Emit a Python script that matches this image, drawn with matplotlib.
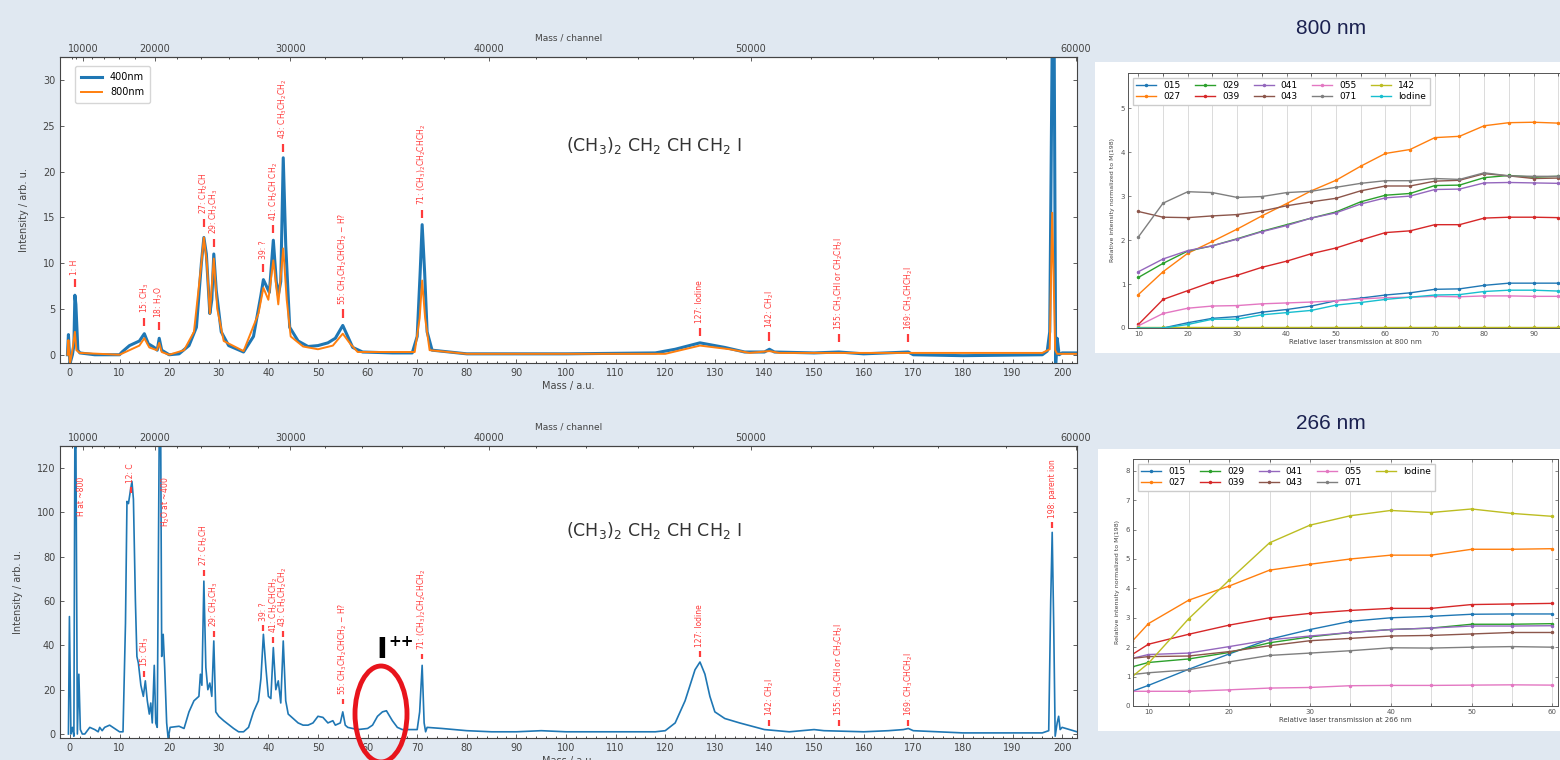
import numpy as np
import matplotlib
matplotlib.use("Agg")
import matplotlib.pyplot as plt
from matplotlib.patches import Rectangle, Ellipse
from matplotlib.ticker import FixedLocator, MultipleLocator

# ---------------- data ----------------
# top spectrum, 400 nm / 800 nm
top400_mass = [-0.5, -0.3, 0.0, 0.5, 0.8, 1.0, 1.2, 1.6, 2.0, 5.0, 10.0, 10.5, 12.0, 14.0, 15.0, 15.8, 17.0,
               17.6, 18.0, 18.5, 20.0, 22.0, 24.0, 25.5, 26.5, 27.0, 27.5, 28.2, 28.6, 29.0, 29.5, 30.5, 32.0,
               35.0, 37.0, 38.5, 39.0, 39.6, 40.2, 41.0, 41.6, 42.0, 42.5, 43.0, 43.5, 44.3, 46.0, 48.0, 50.0,
               52.0, 53.5, 55.0, 56.0, 57.0, 59.0, 65.0, 69.0, 70.0, 70.6, 71.0, 71.5, 72.0, 73.0, 80.0, 100.0,
               118.0, 122.0, 127.0, 132.0, 136.0, 140.0, 141.0, 142.0, 150.0, 155.0, 160.0, 169.0, 170.0, 180.0,
               196.0, 197.0, 197.5, 198.0, 198.4, 198.7, 199.0, 199.4, 200.0, 203.0]
top400_int = [0.0, 2.2, -1.0, 0.0, 1.0, 6.5, 5.5, 0.5, 0.2, 0.0, 0.0, 0.3, 1.0, 1.5, 2.3, 1.2, 0.8,
              0.5, 1.8, 0.5, 0.0, 0.1, 1.0, 3.0, 10.0, 12.8, 11.0, 4.5, 6.0, 11.0, 7.0, 2.5, 1.0,
              0.3, 2.0, 6.5, 8.2, 7.5, 6.8, 12.5, 8.0, 6.5, 8.0, 21.5, 12.0, 3.0, 1.5, 0.9, 1.0,
              1.3, 1.8, 3.2, 2.0, 0.8, 0.3, 0.2, 0.2, 2.0, 9.0, 14.2, 9.0, 2.5, 0.5, 0.1, 0.1,
              0.2, 0.6, 1.3, 0.8, 0.3, 0.3, 0.6, 0.3, 0.2, 0.3, 0.1, 0.3, 0.0, -0.1,
              0.0, 0.4, 2.5, 34.0, 34.0, -1.0, 1.8, 0.0, 0.2, 0.2]

top800_mass = [-0.5, -0.3, 0.0, 0.5, 1.0, 1.3, 2.0, 10.0, 12.0, 14.0, 15.0, 16.0, 17.5, 18.0, 18.5, 20.0,
               23.0, 25.0, 26.5, 27.0, 27.6, 28.2, 29.0, 29.7, 31.0, 35.0, 38.0, 39.0, 40.0, 41.0, 42.0,
               43.0, 43.7, 44.5, 47.0, 50.0, 53.0, 55.0, 56.5, 58.0, 69.5, 70.5, 71.0, 71.6, 72.5, 80.0,
               120.0, 127.0, 133.0, 137.0, 141.0, 143.0, 155.0, 169.0, 196.0, 197.5, 198.0, 198.6, 199.0, 203.0]
top800_int = [0.0, 1.6, -1.0, 0.5, 2.5, 0.5, 0.2, 0.0, 0.5, 1.0, 1.8, 0.8, 0.5, 1.3, 0.3, 0.0,
              0.5, 2.5, 10.0, 12.8, 10.0, 4.5, 10.5, 5.0, 1.5, 0.4, 4.5, 7.3, 6.0, 10.3, 5.5,
              11.6, 6.0, 2.0, 0.9, 0.6, 1.0, 2.3, 1.2, 0.3, 0.3, 4.0, 8.1, 4.0, 0.5, 0.1,
              0.1, 1.0, 0.6, 0.2, 0.4, 0.2, 0.2, 0.2, 0.2, 0.6, 15.5, 0.5, 0.1, 0.1]

# bottom spectrum, 266 nm
bot_mass = [-0.3, -0.1, 0.2, 0.5, 0.8, 1.0, 1.2, 1.5, 1.8, 2.1, 2.5, 3.0, 4.0, 5.0, 5.7, 6.0, 6.5, 7.0, 8.0,
            9.0, 10.0, 10.7, 11.2, 11.5, 11.8, 12.2, 12.5, 12.8, 13.2, 13.5, 13.8, 14.3, 14.8, 15.2, 15.6,
            16.0, 16.3, 16.6, 17.0, 17.3, 17.6, 18.0, 18.3, 18.5, 18.8, 19.1, 19.5, 19.8, 20.2, 22.0, 23.0,
            24.0, 25.0, 26.0, 26.3, 26.6, 27.0, 27.4, 27.8, 28.2, 28.6, 29.0, 29.4, 30.0, 31.0, 33.0, 34.0,
            35.0, 36.0, 37.0, 38.0, 38.5, 39.0, 39.5, 40.0, 40.5, 41.0, 41.5, 42.0, 42.5, 43.0, 43.5, 44.0,
            45.0, 46.0, 47.0, 48.0, 49.0, 50.0, 51.0, 52.0, 53.0, 53.5, 54.5, 55.0, 55.5, 56.0, 58.0, 60.0,
            61.0, 62.0, 63.0, 63.8, 65.0, 66.0, 67.0, 70.0, 70.5, 71.0, 71.4, 71.7, 72.0, 75.0, 80.0, 85.0,
            90.0, 95.0, 100.0, 110.0, 118.0, 120.0, 122.0, 124.0, 126.0, 127.0, 128.0, 129.0, 130.0, 132.0,
            135.0, 140.0, 145.0, 150.0, 152.0, 160.0, 165.0, 168.0, 169.0, 170.0, 175.0, 180.0, 190.0,
            196.0, 197.3, 197.7, 198.0, 198.3, 198.6, 199.0, 199.3, 199.6, 200.0, 203.0]
bot_int = [0, 53, 0, 3, -1, 135, 135, 0, 27, 2, 0, 0, 3, 2, 1, 3, 1.5, 3, 4,
           2.5, 1, 1, 50, 105, 104, 110, 114, 106, 60, 35, 32, 22, 17, 24, 15,
           9, 14, 5, 31, 5, 3, 135, 135, 35, 45, 30, 5, -2, 3, 3.5, 2.5,
           10, 15, 17, 27, 22, 69, 30, 20, 23, 17, 42, 10, 8, 6, 2.5, 1,
           1, 3, 10, 15, 25, 45, 30, 17, 16, 39, 20, 24, 14, 42, 15, 9,
           7, 5, 4, 4, 5, 8, 7.5, 5, 6, 4, 5, 10, 4, 3, 2, 2.5,
           4, 8, 10, 10.5, 6, 3, 2, 2, 10, 31, 5, 1, 3, 2.5, 1.5, 1,
           1, 1.5, 1, 1, 1, 1.5, 5, 15, 29, 32.5, 27, 17, 10, 7,
           5, 2, 1, 2, 1.5, 1, 1.5, 2, 2.5, 1.5, 1, 0.5, 0.5,
           0.5, 1.5, 60, 91, 50, -1, 5, 8, 2, 3, 1]

# peak labels
top_ann_mass = [1, 15, 18, 27, 29, 39, 41, 43, 55, 71, 127, 141, 155, 169]
top_ann_y = [7.8, 3.6, 3.1, 14.4, 12.2, 9.5, 13.7, 22.6, 4.5, 15.4, 2.5, 2.0, 1.8, 1.8]
top_ann_text = ["1: H", "15: CH$_3$", "18: H$_2$O", "27: CH$_2$CH", "29: CH$_2$CH$_3$", "39: ?",
                "41: CH$_2$CH CH$_2$", "43: CH$_3$CH$_2$CH$_2$", "55: CH$_3$CH$_2$CHCH$_2$ − H?",
                "71: (CH$_3$)$_2$CH$_2$CHCH$_2$", "127: Iodine", "142: CH$_2$I",
                "155: CH$_3$CHI or CH$_2$CH$_2$I", "169: CH$_3$CHCH$_2$I"]

bot_ann_mass = [2.3, 12.3, 19.4, 15, 27, 29, 39, 41, 43, 55, 71, 127, 141, 155, 169, 198]
bot_ann_y = [95.5, 110, 90.5, 27, 72.6, 45, 48, 42.5, 45, 14.7, 35, 36, 5, 5, 5, 94.5]
bot_ann_dash = [False, True, False, True, True, True, True, True, True, True, True, True, True, True, True, True]
bot_ann_text = ["H at ~800", "12: C", "H$_2$O at ~400", "15: CH$_3$", "27: CH$_2$CH", "29: CH$_2$CH$_3$",
                "39: ?", "41: CH$_2$CHCH$_2$", "43: CH$_3$CH$_2$CH$_2$", "55: CH$_3$CH$_2$CHCH$_2$ − H?",
                "71: (CH$_3$)$_2$CH$_2$CHCH$_2$", "127: Iodine", "142: CH$_2$I",
                "155: CH$_3$CHI or CH$_2$CH$_2$I", "169: CH$_3$CHCH$_2$I", "198: parent ion"]

channel_ticks = [10000, 20000, 30000, 40000, 50000, 60000]

# laser transmission series, 800 nm
trans800 = [10, 15, 20, 25, 30, 35, 40, 45, 50, 55, 60, 65, 70, 75, 80, 85, 90, 95]
a015 = [0, 0, 0.12, 0.22, 0.26, 0.36, 0.42, 0.5, 0.62, 0.68, 0.75, 0.8, 0.88, 0.89, 0.97, 1.02, 1.02, 1.02]
a027 = [0.76, 1.28, 1.7, 1.97, 2.25, 2.55, 2.83, 3.12, 3.36, 3.68, 3.97, 4.06, 4.33, 4.36, 4.6, 4.67, 4.68, 4.66]
a029 = [1.15, 1.47, 1.75, 1.87, 2.03, 2.2, 2.35, 2.5, 2.64, 2.87, 3.02, 3.06, 3.24, 3.25, 3.42, 3.47, 3.43, 3.45]
a039 = [0.08, 0.65, 0.85, 1.05, 1.2, 1.38, 1.52, 1.69, 1.82, 2.0, 2.17, 2.21, 2.35, 2.35, 2.5, 2.52, 2.52, 2.51]
a041 = [1.28, 1.57, 1.76, 1.87, 2.02, 2.19, 2.33, 2.5, 2.62, 2.82, 2.96, 3.0, 3.15, 3.16, 3.3, 3.31, 3.3, 3.29]
a043 = [2.65, 2.52, 2.51, 2.55, 2.58, 2.66, 2.78, 2.87, 2.95, 3.12, 3.23, 3.23, 3.34, 3.36, 3.51, 3.46, 3.4, 3.41]
a055 = [0.05, 0.33, 0.45, 0.5, 0.51, 0.55, 0.57, 0.59, 0.62, 0.66, 0.69, 0.7, 0.72, 0.71, 0.73, 0.73, 0.72, 0.72]
a071 = [2.07, 2.84, 3.1, 3.08, 2.97, 2.99, 3.08, 3.11, 3.2, 3.29, 3.35, 3.35, 3.4, 3.38, 3.53, 3.46, 3.45, 3.45]
a142 = [0.02, 0.02, 0.02, 0.02, 0.02, 0.02, 0.02, 0.02, 0.02, 0.02, 0.02, 0.02, 0.02, 0.02, 0.02, 0.02, 0.02, 0.02]
a_iod = [0, 0, 0.08, 0.2, 0.2, 0.3, 0.35, 0.4, 0.52, 0.58, 0.65, 0.7, 0.75, 0.76, 0.83, 0.86, 0.86, 0.84]

# laser transmission series, 266 nm
trans266 = [8, 10, 15, 20, 25, 30, 35, 40, 45, 50, 55, 60]
b015 = [0.5, 0.7, 1.25, 1.77, 2.27, 2.6, 2.88, 3.0, 3.05, 3.12, 3.13, 3.13]
b027 = [2.2, 2.8, 3.6, 4.08, 4.62, 4.82, 5.0, 5.13, 5.13, 5.33, 5.33, 5.35]
b029 = [1.33, 1.48, 1.6, 1.82, 2.15, 2.35, 2.5, 2.6, 2.65, 2.78, 2.78, 2.8]
b039 = [1.75, 2.1, 2.44, 2.75, 3.0, 3.15, 3.25, 3.32, 3.32, 3.45, 3.47, 3.49]
b041 = [1.62, 1.75, 1.8, 2.02, 2.25, 2.38, 2.5, 2.6, 2.65, 2.72, 2.72, 2.73]
b043 = [1.62, 1.68, 1.7, 1.85, 2.05, 2.22, 2.3, 2.38, 2.4, 2.45, 2.5, 2.5]
b055 = [0.5, 0.5, 0.5, 0.55, 0.61, 0.63, 0.69, 0.7, 0.7, 0.71, 0.72, 0.71]
b071 = [1.07, 1.13, 1.23, 1.5, 1.72, 1.8, 1.88, 1.98, 1.97, 2.0, 2.02, 2.0]
b_iod = [1.0, 1.45, 2.97, 4.28, 5.55, 6.15, 6.47, 6.65, 6.58, 6.7, 6.55, 6.45]

# ---------------- figure ----------------
W, H = 1560, 760
fig = plt.figure(figsize=(W / 100, H / 100), dpi=100, facecolor="#e0e8f1")


def fbox(x0, y0, x1, y1):
    """pixel box (top-left origin) -> figure fraction rect"""
    return [x0 / W, 1 - y1 / H, (x1 - x0) / W, (y1 - y0) / H]


BLUE, ORANGE, RED = "#1f77b4", "#ff7f0e", "#ff3b3b"
FORMULA = "(CH$_3$)$_2$ CH$_2$ CH CH$_2$ I"

# mass <-> channel (time of flight ~ sqrt(mass))
K, C0 = 2.525e-4, 3604.0


def m2c(m):
    m = np.asarray(m, dtype=float)
    return C0 + np.sign(m) * np.sqrt(np.abs(m)) / K


def c2m(c):
    c = np.asarray(c, dtype=float)
    return np.sign(c - C0) * (K * (c - C0)) ** 2


def style_spectrum(ax, ylim, yticks):
    ax.set_xlim(-2, 203)
    ax.set_ylim(*ylim)
    ax.set_xticks(range(0, 201, 10))
    ax.xaxis.set_minor_locator(MultipleLocator(2))
    ax.set_yticks(yticks)
    ax.tick_params(direction="in", labelsize=7, colors="#444444", top=False, right=True,
                   length=3, width=0.6)
    ax.tick_params(which="minor", direction="in", length=1.5, width=0.5, top=False)
    for s in ax.spines.values():
        s.set_color("#444444")
        s.set_linewidth(0.8)
    ax.set_xlabel("Mass / a.u.", fontsize=7, color="#444444", labelpad=2)
    ax.set_ylabel("Intensity / arb. u.", fontsize=7, color="#444444", labelpad=10)
    sec = ax.secondary_xaxis("top", functions=(m2c, c2m))
    sec.set_xticks(channel_ticks)
    sec.xaxis.set_minor_locator(FixedLocator(range(6000, 61000, 2000)))
    sec.tick_params(direction="in", labelsize=7, colors="#444444", length=3, width=0.6, pad=2)
    sec.tick_params(which="minor", direction="in", length=1.5, width=0.5)
    sec.spines["top"].set_color("#444444")
    sec.set_xlabel("Mass / channel", fontsize=6.5, color="#444444", labelpad=3)
    ax.text(0.498, 0.71, FORMULA, transform=ax.transAxes, fontsize=12.5, color="#333333",
            va="center", ha="left")


def annotate(ax, masses, ys, texts, dash_len, gap, dashes=None):
    for i, (m, y, t) in enumerate(zip(masses, ys, texts)):
        if dashes is None or dashes[i]:
            ax.plot([m, m], [y - dash_len / 2, y + dash_len / 2], color=RED, lw=1.6,
                    solid_capstyle="butt")
        ax.text(m, y + dash_len / 2 + gap, t, rotation=90, ha="center", va="bottom",
                fontsize=5.5, color=RED)


# ---- top spectrum ----
ax1 = fig.add_axes(fbox(60, 57, 1077, 363))
ax1.plot(top400_mass, top400_int, color=BLUE, lw=2.2, label="400nm")
ax1.plot(top800_mass, top800_int, color=ORANGE, lw=1.4, label="800nm")
style_spectrum(ax1, (-0.9, 32.5), range(0, 31, 5))
annotate(ax1, top_ann_mass, top_ann_y, top_ann_text, 0.9, 0.5)
ax1.legend(loc="upper left", fontsize=7, frameon=True, handlelength=2.2, borderpad=0.6,
           labelspacing=0.5, bbox_to_anchor=(0.01, 0.985))

# ---- bottom spectrum ----
ax2 = fig.add_axes(fbox(60, 446, 1077, 738))
ax2.plot(bot_mass, bot_int, color=BLUE, lw=1.2)
style_spectrum(ax2, (-1.8, 130), range(0, 121, 20))
annotate(ax2, bot_ann_mass, bot_ann_y, bot_ann_text, 2.6, 1.8, bot_ann_dash)

# I++ highlight
fig.text(376 / W, 1 - 664 / H, "I", fontsize=21, fontweight="bold", color="black",
         ha="left", va="bottom")
fig.text(388 / W, 1 - 634 / H, "++", fontsize=11, fontweight="bold", color="black",
         ha="left", va="top")
fig.patches.append(Ellipse((381 / W, 1 - 714 / H), 52 / W, 96 / H, transform=fig.transFigure,
                           fill=False, edgecolor="#e8141c", lw=3.5, clip_on=False))

# ---- right panels ----
fig.patches.append(Rectangle((1095 / W, 1 - 353 / H), 465 / W, 291 / H, transform=fig.transFigure,
                             facecolor="white", edgecolor="none", zorder=-1))
fig.patches.append(Rectangle((1098 / W, 1 - 731 / H), 462 / W, 282 / H, transform=fig.transFigure,
                             facecolor="white", edgecolor="none", zorder=-1))

fig.text(1331 / W, 1 - 29 / H, "800 nm", fontsize=15, color="#1b2150", ha="center", va="center",
         family="Liberation Sans")
fig.text(1331 / W, 1 - 424 / H, "266 nm", fontsize=15, color="#1b2150", ha="center", va="center",
         family="Liberation Sans")

tab = plt.get_cmap("tab10").colors


def style_trans(ax, xlabel):
    ax.tick_params(direction="in", labelsize=5, colors="#555555", top=True, right=True,
                   length=2.5, width=0.5, pad=2)
    ax.tick_params(which="minor", direction="in", length=2, width=0.4, top=True)
    ax.grid(True, which="both", axis="x", color="#d6d6d6", lw=0.6)
    for s in ax.spines.values():
        s.set_color("#555555")
        s.set_linewidth(0.7)
    ax.set_xlabel(xlabel, fontsize=5, color="#444444", labelpad=1.5)
    ax.set_ylabel("Relative intensity normalized to M(198)", fontsize=4.5, color="#444444",
                  labelpad=4)


ax3 = fig.add_axes(fbox(1128, 73, 1583, 328))
series800 = [("015", a015), ("027", a027), ("029", a029), ("039", a039), ("041", a041),
             ("043", a043), ("055", a055), ("071", a071), ("142", a142), ("Iodine", a_iod)]
for i, (lab, vals) in enumerate(series800):
    ax3.plot(trans800, vals, color=tab[i], lw=1.0, marker=".", ms=3, label=lab)
ax3.set_xlim(7.9, 100)
ax3.set_ylim(0, 5.8)
ax3.set_xticks(range(10, 100, 10))
ax3.xaxis.set_minor_locator(MultipleLocator(5))
ax3.set_yticks(range(0, 6))
style_trans(ax3, "Relative laser transmission at 800 nm")
ax3.legend(loc="upper left", ncol=5, fontsize=6.5, handlelength=2.2, columnspacing=1.6,
           labelspacing=0.25, borderpad=0.4, framealpha=1, edgecolor="#cccccc", fancybox=False,
           bbox_to_anchor=(0.0, 1.0))

ax4 = fig.add_axes(fbox(1133, 459, 1558, 706))
series266 = [("015", b015, tab[0]), ("027", b027, tab[1]), ("029", b029, tab[2]), ("039", b039, tab[3]),
             ("041", b041, tab[4]), ("043", b043, tab[5]), ("055", b055, tab[6]), ("071", b071, tab[7]),
             ("Iodine", b_iod, tab[8])]
for lab, vals, col in series266:
    ax4.plot(trans266, vals, color=col, lw=1.0, marker=".", ms=3, label=lab)
ax4.set_xlim(8.1, 60.7)
ax4.set_ylim(0, 8.4)
ax4.set_xticks(range(10, 61, 10))
ax4.xaxis.set_minor_locator(MultipleLocator(5))
ax4.set_yticks(range(0, 9))
style_trans(ax4, "Relative laser transmission at 266 nm")
ax4.legend(loc="upper left", ncol=5, fontsize=6.5, handlelength=2.2, columnspacing=1.6,
           labelspacing=0.25, borderpad=0.4, framealpha=1, edgecolor="#cccccc", fancybox=False,
           bbox_to_anchor=(0.0, 1.0))

fig.savefig("out.png", dpi=100, facecolor=fig.get_facecolor())
